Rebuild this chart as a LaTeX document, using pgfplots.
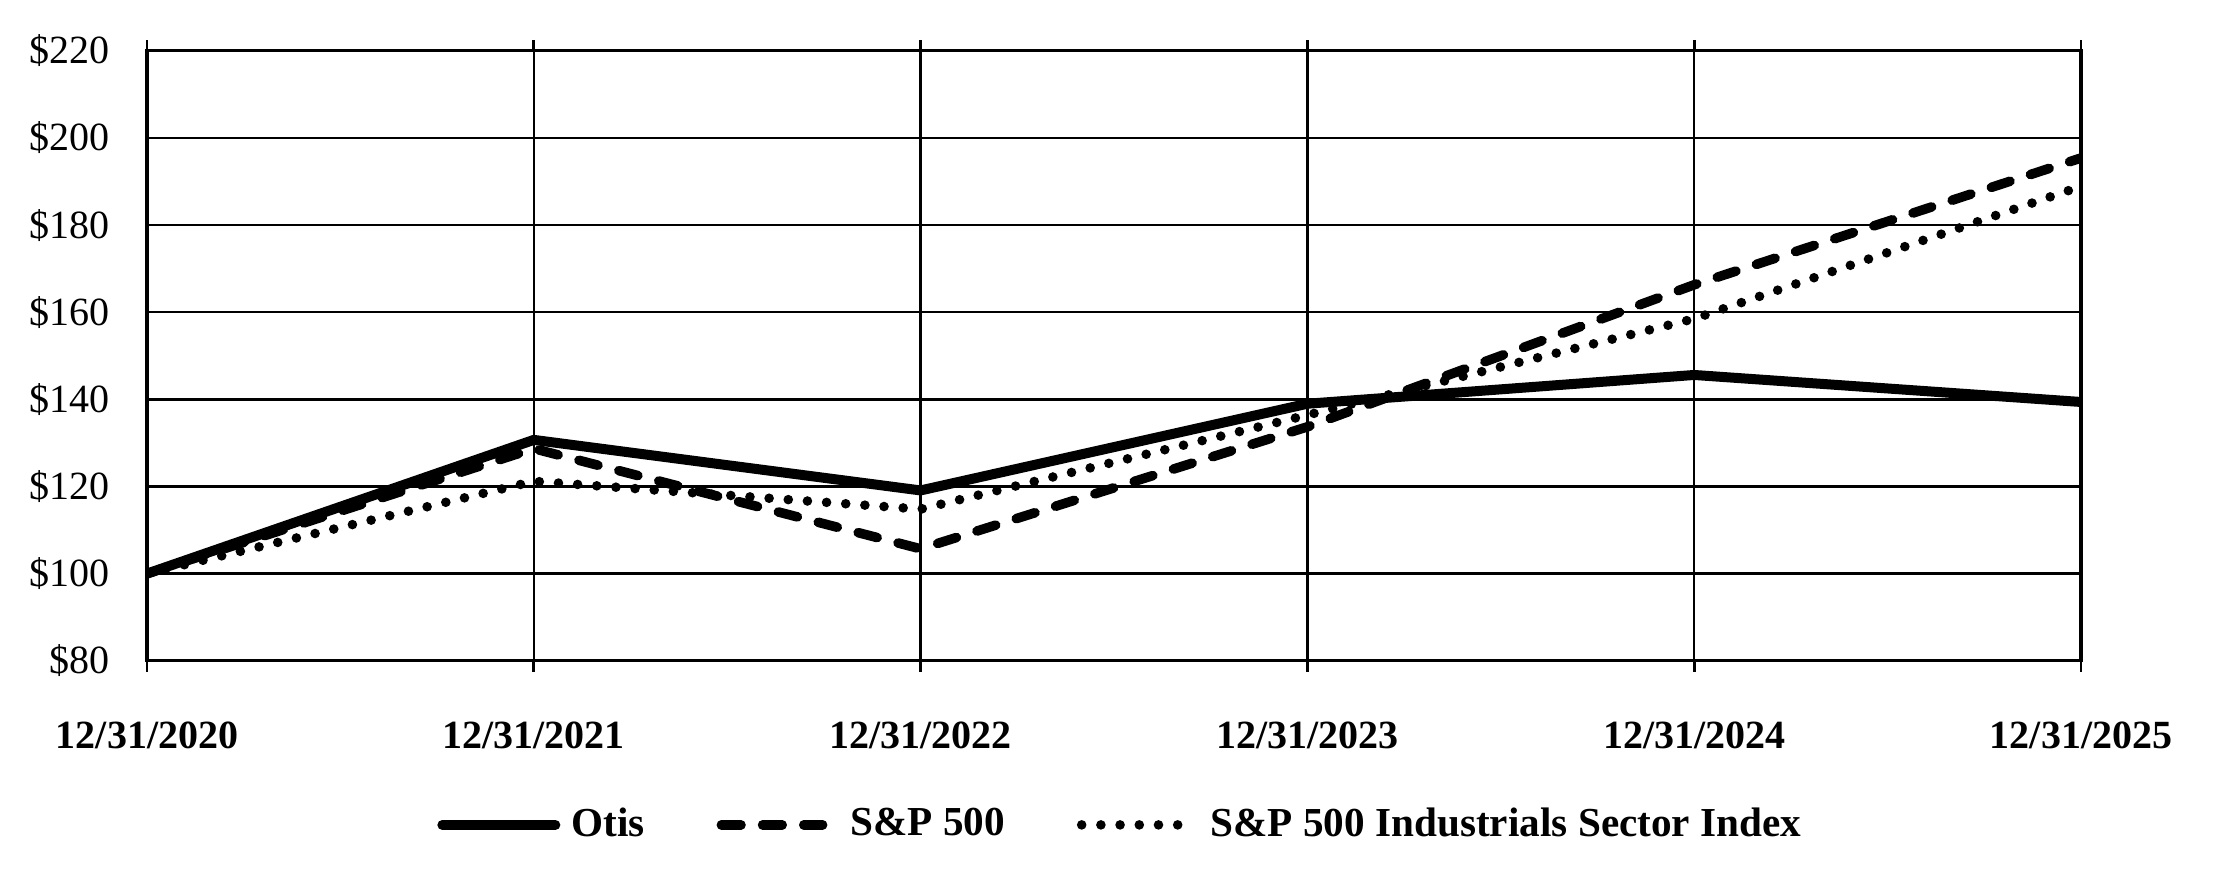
\documentclass[border=0pt]{standalone}
\usepackage{fontspec}
\setmainfont{Liberation Serif}
\usepackage{pgfplots}
\usepackage{pgfplotstable}
\pgfplotsset{compat=1.18}

% legend samples: same slot width, line drawn to different lengths
\pgfplotsset{
    solidleg/.style={legend image code/.code={\path (0pt,0pt) (30.75pt,0pt);
        \draw[##1] (1.25pt,0pt) -- (29.5pt,0pt);}},
    dashleg/.style={legend image code/.code={\path (0pt,0pt) (30.75pt,0pt);
        \draw[##1] (1.2pt,0pt) -- (26.5pt,0pt);}},
    dotleg/.style={legend image code/.code={\path (0pt,0pt) (30.75pt,0pt);
        \draw[##1] (1.2pt,0pt) -- (25.3pt,0pt);}},
}

% cumulative value of $100 invested
\pgfplotstableread{
x otis sp ind
0 100.0 100.0 100.0
1 130.7 128.7 121.2
2 119.1 105.7 114.8
3 139.0 133.7 136.4
4 145.6 166.3 158.5
5 139.4 195.4 188.9
}\perf

\begin{document}
\begin{tikzpicture}
    \begin{axis}[
        name=ax,
        scale only axis,
        width=483.5pt,
        height=152.5pt,
        xmin=0, xmax=5,
        ymin=80, ymax=220,
        xtick={0,...,5},
        xticklabels={12/31/2020,12/31/2021,12/31/2022,12/31/2023,12/31/2024,12/31/2025},
        ytick={80,100,...,220},
        yticklabels={\$80,\$100,\$120,\$140,\$160,\$180,\$200,\$220},
        grid=major,
        grid style={black, line width=0.6pt},
        axis line style={black, line width=0.85pt},
        tick align=outside,
        major tick length=2.75pt,
        xtick style={black, line width=0.7pt},
        ytick style={draw=none},
        xticklabel style={font=\bfseries, inner sep=0pt, anchor=north, yshift=-12.3pt},
        yticklabel style={inner sep=0pt, anchor=east, xshift=-6.5pt},
        legend columns=3,
        legend style={at={(0.503,-0.269)}, anchor=center, draw=none,
            font=\bfseries\fontsize{10.3}{12}\selectfont,
            nodes={inner ysep=1pt, inner xsep=1.5pt},
            /tikz/every even column/.append style={column sep=15.3pt}},
    ]
    \addplot[black, line width=2.5pt, line join=round, line cap=round, solidleg]
        table[x=x, y=otis] {\perf};
    \addlegendentry{Otis}
    \addplot[black, line width=2.4pt, dash pattern=on 4.9pt off 5.4pt, line cap=round, dashleg]
        table[x=x, y=sp] {\perf};
    \addlegendentry{S\&P 500}
    \addplot[black, line width=2.4pt, dash pattern=on 0pt off 4.8pt, line cap=round, dotleg]
        table[x=x, y=ind] {\perf};
    \addlegendentry{S\&P 500 Industrials Sector Index}
    \end{axis}
    \pgfresetboundingbox
    \path[use as bounding box] ([xshift=-36.75pt,yshift=-56.8pt]ax.south west) rectangle ([xshift=36pt,yshift=12.7pt]ax.north east);
\end{tikzpicture}
\end{document}
